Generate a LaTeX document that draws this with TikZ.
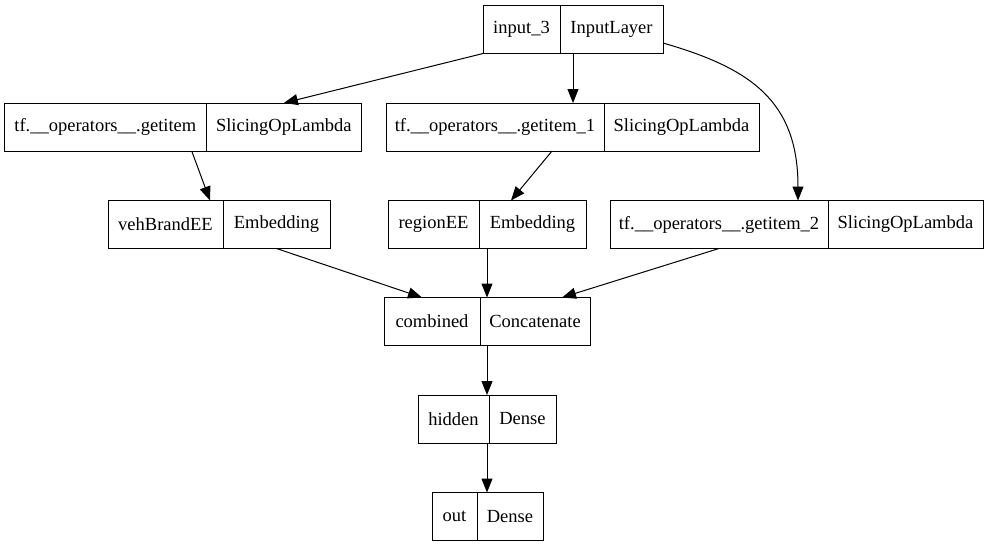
\documentclass[tikz,border=0pt]{standalone}
\usepackage{fontspec}
\setmainfont{Liberation Serif}
\usetikzlibrary{arrows.meta}
\begin{document}
\begin{tikzpicture}[x=1pt,y=-1pt,
  field/.style={draw, line width=1pt, minimum height=48pt, inner sep=0pt,
    outer sep=0pt, font=\fontsize{18.5}{22}\selectfont},
  rfield/.style={field, anchor=west},
  link/.style={line width=1pt, -{Triangle[length=14pt,width=11pt]}},
]
\fill[white] (0,0) rectangle (989,547);
\useasboundingbox (0,0) rectangle (989,547);

% input layer
\node[field, minimum width=77pt] (inL) at (521.5,29.5) {input\_3};
\node[rfield, minimum width=103pt] (inR) at (inL.east) {InputLayer};

% slicing layers
\node[field, minimum width=202.7pt] (gaL) at (105.35,127) {tf.\_\_operators\_\_.getitem};
\node[rfield, minimum width=154.3pt] (gaR) at (gaL.east) {SlicingOpLambda};

\node[field, minimum width=218pt] (gbL) at (495,127) {tf.\_\_operators\_\_.getitem\_1};
\node[rfield, minimum width=155pt] (gbR) at (gbL.east) {SlicingOpLambda};

\node[field, minimum width=218pt] (gcL) at (719,224.5) {tf.\_\_operators\_\_.getitem\_2};
\node[rfield, minimum width=155pt] (gcR) at (gcL.east) {SlicingOpLambda};

% embeddings
\node[field, minimum width=115pt] (veL) at (165.5,224.5) {vehBrandEE};
\node[rfield, minimum width=107pt] (veR) at (veL.east) {Embedding};

\node[field, minimum width=91pt] (reL) at (433.5,224.5) {regionEE};
\node[rfield, minimum width=107pt] (reR) at (reL.east) {Embedding};

% merge and dense layers
\node[field, minimum width=96pt] (coL) at (432,321.5) {combined};
\node[rfield, minimum width=110pt] (coR) at (coL.east) {Concatenate};

\node[field, minimum width=71pt] (hiL) at (453.5,419) {hidden};
\node[rfield, minimum width=67pt] (hiR) at (hiL.east) {Dense};

\node[field, minimum width=45pt] (ouL) at (454.5,516.5) {out};
\node[rfield, minimum width=66pt] (ouR) at (ouL.east) {Dense};

% connections
\draw[link] (inL.south west) -- (gaR.north);
\draw[link] ([xshift=13pt]inR.south west) -- ([xshift=13pt]inR.south west |- gbL.north);
\draw[link] ([yshift=-13.5pt]inR.east) .. controls +(87,25) and +(0,-100) .. ([xshift=-30pt]gcL.north east);

\draw[link] ([xshift=-15pt]gaL.south east) -- ([xshift=-13pt]veL.north east);
\draw[link] ([xshift=-52pt]gbL.south east) -- ([xshift=32pt]reR.north west);

\draw[link] (veR.south) -- ([xshift=38pt]coL.north west);
\draw[link] ([xshift=8pt]reR.south west) -- ([xshift=8pt]reR.south west |- coR.north);
\draw[link] (gcL.south) -- ([xshift=-28pt]coR.north east);

\draw[link] ([xshift=7pt]coR.south west) -- ([xshift=7pt]coR.south west |- hiL.north);
\draw[link] ([xshift=-2pt]hiR.south west) -- ([xshift=-2pt]hiR.south west |- ouL.north);
\end{tikzpicture}
\end{document}
